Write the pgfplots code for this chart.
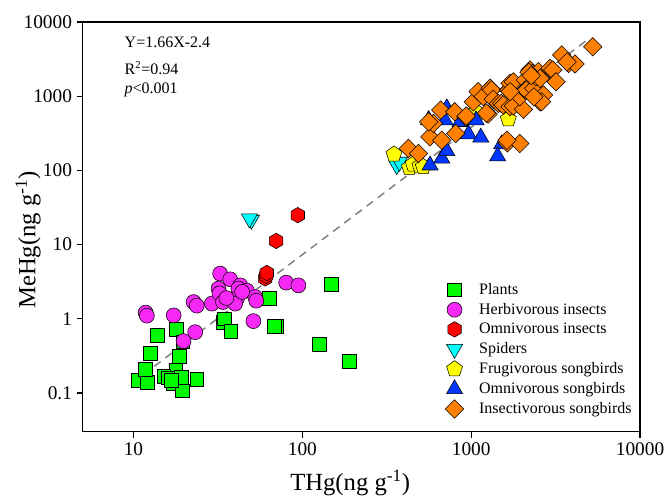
\documentclass[border=0pt]{standalone}
\usepackage{fontspec}
\setmainfont{Liberation Serif}
\usepackage{pgfplots}
\pgfplotsset{compat=1.18}
\pgfdeclareplotmark{hexagon*}{%
  \pgfpathmoveto{\pgfqpointpolar{90}{\pgfplotmarksize}}%
  \pgfpathlineto{\pgfqpointpolar{150}{\pgfplotmarksize}}%
  \pgfpathlineto{\pgfqpointpolar{210}{\pgfplotmarksize}}%
  \pgfpathlineto{\pgfqpointpolar{270}{\pgfplotmarksize}}%
  \pgfpathlineto{\pgfqpointpolar{330}{\pgfplotmarksize}}%
  \pgfpathlineto{\pgfqpointpolar{30}{\pgfplotmarksize}}%
  \pgfpathclose
  \pgfusepathqfillstroke
}
\definecolor{cgreen}{RGB}{0,250,0}
\definecolor{cmag}{RGB}{245,40,245}
\definecolor{cred}{RGB}{255,0,0}
\definecolor{ccyan}{RGB}{0,255,255}
\definecolor{cyel}{RGB}{255,255,0}
\definecolor{cblue}{RGB}{0,55,255}
\definecolor{corange}{RGB}{255,128,0}
\begin{document}
\begin{tikzpicture}
\path[use as bounding box] (-62pt,-51.2pt) rectangle (437.5pt,323.8pt);
\begin{axis}[
  at={(0,0)}, anchor=south west,
  scale only axis, width=418pt, height=307.3pt,
  xmode=log, ymode=log,
  xmin=5, xmax=10000, ymin=0.03, ymax=10000,
  xtick={10,100,1000,10000}, xticklabels={10,100,1000,10000},
  ytick={0.1,1,10,100,1000,10000}, yticklabels={0.1,1,10,100,1000,10000},
  xminorticks=false, yminorticks=false,
  tick align=outside, tick pos=left,
  major tick length=4.5pt,
  axis line style={line width=1.1pt},
  every tick/.style={black, line width=1pt},
  ticklabel style={font=\fontsize{14.5}{16}\selectfont},
  xlabel={THg(ng g\textsuperscript{-1})},
  ylabel={MeHg(ng g\textsuperscript{-1})},
  xlabel style={font=\fontsize{18.5}{20}\selectfont, at={(axis description cs:0.48,-0.125)}, anchor=center},
  ylabel style={font=\fontsize{18.5}{20}\selectfont, at={(axis description cs:-0.098,0.468)}, anchor=center},
  legend style={draw=none, fill=none, at={(axis description cs:0.643,0.376)}, anchor=north west,
    font=\fontsize{12}{13}\selectfont, row sep=1.1pt,
    /tikz/every odd column/.append style={column sep=9.5pt}},
  legend cell align=left,
  every axis plot/.append style={mark options={draw=black, line width=0.6pt}},
]
\addplot[forget plot, gray, line width=1.1pt, dash pattern=on 6pt off 4.5pt] coordinates {(11.4,0.176) (4850,5700)};

\addplot[only marks, mark=square*, mark size=5.2pt, mark options={fill=cgreen}] coordinates {
(10.7,0.148) (12.0,0.138) (11.8,0.21) (12.6,0.34) (13.8,0.60) (17.9,0.72) (18.7,0.31)
(17.8,0.20) (15.1,0.166) (16.1,0.16) (17.3,0.134) (19.3,0.163) (19.5,0.107) (23.7,0.151)
(34.1,0.90) (34.5,1.0) (37.7,0.68) (63.8,1.9) (70.6,0.79) (68,0.80) (148,2.88) (126,0.45)
(190,0.268) (19.6,0.49) (16.8,0.15)
};
\addlegendentry{Plants}

\addplot[only marks, mark=*, mark size=5.6pt, mark options={fill=cmag}] coordinates {
(11.8,1.21) (12.0,1.10) (17.3,1.11) (23.2,0.66) (19.8,0.50) (22.7,1.68) (23.7,1.50)
(29.1,1.6) (32.6,4.06) (37.4,3.4) (31.9,2.55) (32.3,2.2) (33.9,1.68) (42.9,2.82)
(41.8,2.55) (46.9,2.4) (41,1.87) (40,1.6) (52.6,1.96) (53.4,1.75) (51.3,0.93)
(80.2,3.07) (94.8,2.82) (35.5,1.9) (44,2.3)
};
\addlegendentry{Herbivorous insects}

\addplot[only marks, mark=hexagon*, mark size=5.8pt, mark options={fill=cred}] coordinates {
(60.3,3.5) (61,3.8) (61.6,4.14) (70,11.2) (94,24.9)
};
\addlegendentry{Omnivorous insects}

\addplot[only marks, mark=triangle*, mark size=7pt, mark options={fill=ccyan, rotate=180}] coordinates {
(50,21.5) (48.6,22.4) (362,117) (376,130)
};
\addlegendentry{Spiders}

\addplot[only marks, mark=pentagon*, mark size=6.3pt, mark options={fill=cyel}] coordinates {
(349,165) (431,109) (453,121) (497,114) (520,112) (1069,616) (1660,490)
};
\addlegendentry{Frugivorous songbirds}

\addplot[only marks, mark=triangle*, mark size=7pt, mark options={fill=cblue}] coordinates {
(571,117) (670,145) (717,183) (860,451) (964,308) (1140,278) (1070,475) (700,475)
(1517,226) (1435,155) (717,690) (560,480)
};
\addlegendentry{Omnivorous songbirds}

\addplot[only marks, mark=square*, mark size=4.9pt, mark options={fill=corange, rotate=45}] coordinates {
(425,198) (487,169) (570,283) (670,255) (810,315) (597,430) (560,450) (660,650) (800,616)
(930,527) (935,540) (1030,840) (1100,1150) (1180,990) (1260,573) (1230,590) (1295,1280)
(1320,1210) (1350,910) (1450,800) (1510,800) (1550,760) (1700,720) (1780,740) (2040,665)
(1940,980) (1660,1210) (1670,1210) (1700,1490) (1780,1560) (2090,1650) (2090,1210)
(2120,1210) (2340,1280) (2560,840) (2680,1040) (2610,840) (2350,980) (1700,1150)
(2230,2250) (2310,2030) (2420,1820) (2500,2140) (2560,1740) (2200,2100) (2270,1900)
(2930,2370) (3040,2250) (3180,1560) (3435,3590) (3780,2770) (4120,2720) (3700,2900)
(5250,4640) (1640,235) (1940,231) (1630,255)
};
\addlegendentry{Insectivorous songbirds}

\node[anchor=west, font=\fontsize{12}{14}\selectfont] at (axis description cs:0.067,0.951) {Y=1.66X-2.4};
\node[anchor=west, font=\fontsize{12}{14}\selectfont] at (axis description cs:0.067,0.888) {R\textsuperscript{2}=0.94};
\node[anchor=west, font=\fontsize{12}{14}\selectfont] at (axis description cs:0.067,0.834) {\textit{p}<0.001};
\end{axis}
\end{tikzpicture}
\end{document}
